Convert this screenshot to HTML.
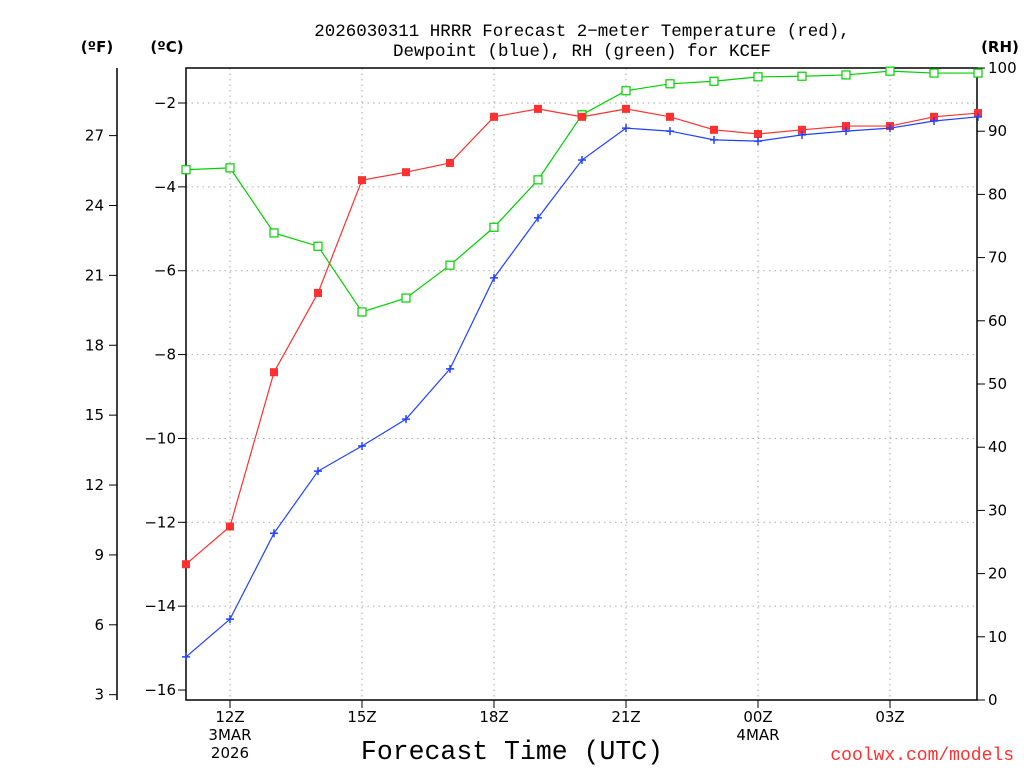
<!DOCTYPE html>
<html><head><meta charset="utf-8"><style>
body{margin:0;background:#fff;}
svg{display:block;font-family:"DejaVu Sans","Liberation Sans",sans-serif;}
.mono{font-family:"Liberation Mono","DejaVu Sans Mono",monospace;}
</style></head><body>
<svg id="chart" width="1024" height="768" viewBox="0 0 1024 768">
<g id="grid"></g>
<g id="axes"></g>
<g id="series"></g>
<text class="mono" x="582" y="36" text-anchor="middle" font-size="17.5">2026030311 HRRR Forecast 2−meter Temperature (red),</text>
<text class="mono" x="582" y="56" text-anchor="middle" font-size="17.5">Dewpoint (blue), RH (green) for KCEF</text>
<text x="97" y="52" text-anchor="middle" font-size="15" font-weight="bold">(ºF)</text>
<text x="167" y="52" text-anchor="middle" font-size="15" font-weight="bold">(ºC)</text>
<text x="1000" y="52" text-anchor="middle" font-size="15" font-weight="bold">(RH)</text>
<text class="mono" x="512" y="759" text-anchor="middle" font-size="26.5">Forecast Time (UTC)</text>
<text class="mono" x="1014" y="760" text-anchor="end" font-size="18" fill="#ff3030">coolwx.com/models</text>
</svg>
<script>
const hours=[11,12,13,14,15,16,17,18,19,20,21,22,23,24,25,26,27,28,29];
const tempC=[-13.0,-12.1,-8.42,-6.53,-3.84,-3.65,-3.43,-2.33,-2.14,-2.33,-2.14,-2.33,-2.64,-2.74,-2.64,-2.55,-2.55,-2.33,-2.24];
const dewC=[-15.21,-14.31,-12.26,-10.78,-10.18,-9.54,-8.34,-6.17,-4.74,-3.36,-2.60,-2.67,-2.88,-2.91,-2.76,-2.67,-2.60,-2.43,-2.33];
const rh=[83.9,84.2,73.9,71.8,61.4,63.6,68.8,74.8,82.3,92.6,96.4,97.5,97.9,98.6,98.7,98.9,99.5,99.2,99.2];
const xTickHours=[12,15,18,21,24,27];
const xTickLabels=["12Z","15Z","18Z","21Z","00Z","03Z"];
const cTicks=[-2,-4,-6,-8,-10,-12,-14,-16];
const fTicks=[3,6,9,12,15,18,21,24,27];
const rhTicks=[0,10,20,30,40,50,60,70,80,90,100];

const L=186,R=977,T=68,B=700;
const xS=h=>L+(h-11)*44;
const yC=c=>103+(-2-c)*41.93;
const yF=f=>yC((f-32)*5/9);
const yRH=v=>B-v*(B-T)/100;
const NS="http://www.w3.org/2000/svg";
function mk(tag,attrs,parent,txt){const e=document.createElementNS(NS,tag);for(const k in attrs)e.setAttribute(k,attrs[k]);if(txt!==undefined)e.textContent=txt;parent.appendChild(e);return e;}
const grid=document.getElementById('grid'),axes=document.getElementById('axes'),ser=document.getElementById('series');

xTickHours.forEach((h,i)=>{
  const l=mk('line',{x1:xS(h),x2:xS(h),y1:T,y2:B,stroke:'#aaa','stroke-dasharray':'1.5,4'},grid);
  
  
  const t=mk('line',{x1:xS(h),x2:xS(h),y1:B,y2:B+8,stroke:'#000'},axes);
  
  
  const tx=mk('text',{x:xS(h),y:722,'text-anchor':'middle','font-size':15},axes,xTickLabels[i]);
  
  
});
[["3MAR",12,740],["2026",12,758],["4MAR",24,740]].forEach(d=>{
  const tx=mk('text',{x:xS(d[1]),y:d[2],'text-anchor':'middle','font-size':15},axes,d[0]);
  
  
});
cTicks.forEach(c=>{
  const y=yC(c);
  if(c>-16){const l=mk('line',{x1:L,x2:R,y1:y,y2:y,stroke:'#aaa','stroke-dasharray':'1.5,4'},grid);
  
  }
  const t=mk('line',{x1:L-8,x2:L,y1:y,y2:y,stroke:'#000'},axes);
  
  
  const tx=mk('text',{x:L-10,y:y+5,'text-anchor':'end','font-size':15},axes,c<0?'−'+(-c):String(c));
  
  
});
fTicks.forEach(f=>{
  const y=yF(f);
  const t=mk('line',{x1:109,x2:117,y1:y,y2:y,stroke:'#000'},axes);
  
  
  const tx=mk('text',{x:104,y:y+5,'text-anchor':'end','font-size':15},axes,String(f));
  
  
});
rhTicks.forEach(v=>{
  const y=yRH(v);
  const t=mk('line',{x1:R,x2:R+8,y1:y,y2:y,stroke:'#000'},axes);
  
  
  const tx=mk('text',{x:R+11,y:y+5,'font-size':15},axes,String(v));
  
  
});
const fr=mk('rect',{x:L,y:T,width:R-L,height:B-T,fill:'none',stroke:'#000','stroke-width':1.5},axes);


const fa=mk('line',{x1:117,x2:117,y1:T,y2:B,stroke:'#000','stroke-width':1.5},axes);



function line(vals,yf,color,name){
  const pts=vals.map((v,i)=>xS(hours[i])+','+yf(v)).join(' ');
  const p=mk('polyline',{points:pts,fill:'none',stroke:color,'stroke-width':1.2},ser);
  
  
}
line(rh,yRH,'#00d000','rh');
line(tempC,yC,'#ff3030','temperature');
line(dewC,yC,'#2040ff','dewpoint');
rh.forEach((v,i)=>{
  const m=mk('rect',{x:xS(hours[i])-4,y:yRH(v)-4,width:8,height:8,fill:'#fff',stroke:'#00d000','stroke-width':1.2},ser);
  
  
});
tempC.forEach((v,i)=>{
  const m=mk('rect',{x:xS(hours[i])-4,y:yC(v)-4,width:8,height:8,fill:'#ff3030'},ser);
  
  
});
dewC.forEach((v,i)=>{
  const x=xS(hours[i]),y=yC(v);
  const m=mk('path',{d:`M${x-4},${y}H${x+4}M${x},${y-4}V${y+4}`,stroke:'#2040ff','stroke-width':1.5},ser);
  
  
});
</script>
</body></html>
